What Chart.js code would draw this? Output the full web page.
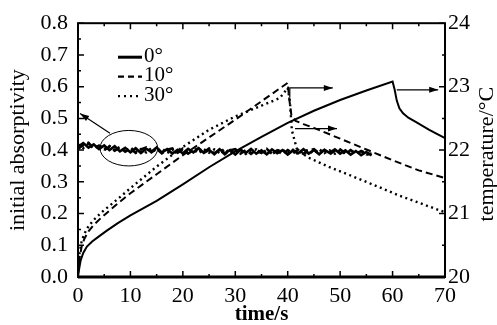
<!DOCTYPE html>
<html>
<head>
<meta charset="utf-8">
<script src="https://cdn.jsdelivr.net/npm/chart.js@4.4.0/dist/chart.umd.min.js"></script>
<style>
  html, body { margin: 0; padding: 0; background: #fff; }
</style>
</head>
<body>
<canvas id="chart" width="497" height="325"></canvas>
<script>
// absorptivity, sampled every second (left axis)
const absTime = [0,1,2,3,4,5,6,7,8,9,10,11,12,13,14,15,16,17,18,19,20,21,22,23,24,25,26,27,28,29,
  30,31,32,33,34,35,36,37,38,39,40,41,42,43,44,45,46,47,48,49,50,51,52,53,54,55,56];
const abs0 = [0.410,0.422,0.408,0.418,0.403,0.415,0.400,0.412,0.396,0.407,
  0.393,0.406,0.391,0.404,0.395,0.408,0.392,0.403,0.389,0.401,
  0.390,0.404,0.393,0.406,0.391,0.401,0.387,0.403,0.390,0.400,
  0.386,0.401,0.391,0.404,0.389,0.399,0.387,0.402,0.390,0.400,
  0.386,0.399,0.390,0.403,0.389,0.400,0.387,0.401,0.391,0.402,
  0.389,0.399,0.386,0.397,0.384,0.394,0.383];
const abs10 = [0.404,0.416,0.423,0.405,0.414,0.400,0.411,0.398,0.409,0.395,
  0.405,0.391,0.402,0.408,0.393,0.404,0.390,0.401,0.405,0.392,
  0.402,0.389,0.400,0.405,0.393,0.405,0.390,0.401,0.387,0.399,
  0.403,0.389,0.400,0.388,0.401,0.391,0.404,0.389,0.399,0.387,
  0.400,0.390,0.401,0.388,0.399,0.403,0.390,0.400,0.387,0.399,
  0.402,0.390,0.400,0.388,0.397,0.386,0.389];
const abs30 = [0.418,0.407,0.420,0.405,0.416,0.403,0.413,0.400,0.410,0.397,
  0.408,0.394,0.403,0.393,0.406,0.395,0.405,0.391,0.401,0.393,
  0.405,0.393,0.402,0.390,0.403,0.392,0.402,0.391,0.404,0.389,
  0.398,0.401,0.388,0.399,0.402,0.390,0.400,0.387,0.398,0.401,
  0.390,0.401,0.387,0.398,0.400,0.389,0.402,0.391,0.399,0.389,
  0.400,0.388,0.398,0.389,0.399,0.387,0.385];

// temperature (right axis)
const time0 = [0,0.2,0.5,1,1.7,2.7,4,5.5,7.6,10,15,20,25,30,35,40,45,50,55,60,60.4,60.8,61.3,62,63,64.5,67,70];
const temp0 = [20.0,20.12,20.26,20.38,20.48,20.56,20.64,20.73,20.85,20.97,21.2,21.46,21.73,21.98,22.21,22.43,22.62,22.79,22.94,23.08,22.95,22.78,22.66,22.58,22.51,22.44,22.32,22.19];
const time10 = [0,0.3,0.7,1.2,2,3,4.5,7.6,10,15,20,25,30,35,40,40.3,40.7,41.5,43,45,50,55,60,65,70];
const temp10 = [20.05,20.3,20.48,20.6,20.72,20.82,20.94,21.16,21.32,21.62,21.92,22.2,22.48,22.77,23.06,22.8,22.55,22.46,22.41,22.35,22.18,22.01,21.84,21.68,21.56];
const time30 = [0,0.3,0.7,1.2,2,3,4.5,7.6,10,15,20,25,30,35,38.5,40,40.4,40.8,41.8,44,48,53.8,61.4,70];
const temp30 = [20.1,20.38,20.56,20.68,20.8,20.9,21.02,21.23,21.4,21.74,22.05,22.32,22.53,22.7,22.82,22.98,22.78,22.31,22.0,21.88,21.73,21.54,21.28,21.02];

const labels = ['0°', '10°', '30°'];
const dashes = [[], [7, 4], [2, 3.5]];

const FONT = "'Liberation Serif', 'Times New Roman', serif";

function pts(xs, ys) {
  return xs.map((x, i) => ({ x: x, y: ys[i] }));
}

function absSet(i, data) {
  return {
    label: labels[i],
    data: pts(absTime, data),
    yAxisID: 'y',
    borderColor: '#000',
    borderWidth: 2.6,
    borderDash: dashes[i],
    pointRadius: 0,
    tension: 0
  };
}
function tempSet(i, xs, ys) {
  return {
    label: labels[i] + ' T',
    data: pts(xs, ys),
    yAxisID: 'y1',
    borderColor: '#000',
    borderWidth: i == 2 ? 2.4 : 2,
    borderDash: dashes[i],
    pointRadius: 0,
    tension: 0
  };
}

function arrowHead(ctx, x0, y0, x1, y1) {
  const a = Math.atan2(y1 - y0, x1 - x0);
  ctx.beginPath();
  ctx.moveTo(x1, y1);
  ctx.lineTo(x1 - 9 * Math.cos(a) + 3 * Math.sin(a), y1 - 9 * Math.sin(a) - 3 * Math.cos(a));
  ctx.lineTo(x1 - 9 * Math.cos(a) - 3 * Math.sin(a), y1 - 9 * Math.sin(a) + 3 * Math.cos(a));
  ctx.closePath();
  ctx.fill();
}

// frame with inward ticks, legend, right title and annotation arrows
const decor = {
  id: 'decor',
  afterDatasetsDraw(chart) {
    const ctx = chart.ctx;
    const a = chart.chartArea;
    const sx = chart.scales.x, sy = chart.scales.y, sy1 = chart.scales.y1;
    ctx.save();
    ctx.strokeStyle = '#000';
    ctx.fillStyle = '#000';
    ctx.lineWidth = 2;
    ctx.setLineDash([]);
    ctx.strokeRect(a.left, a.top, a.right - a.left, a.bottom - a.top);
    ctx.lineWidth = 3;
    ctx.beginPath(); ctx.moveTo(a.left, a.bottom); ctx.lineTo(a.right, a.bottom); ctx.stroke();

    ctx.lineWidth = 1.5;
    ctx.beginPath();
    for (let v = 0; v <= 70.001; v += 5) {
      const x = sx.getPixelForValue(v);
      const len = (Math.round(v) % 10 == 0) ? 6 : 3;
      ctx.moveTo(x, a.bottom); ctx.lineTo(x, a.bottom - len);
      ctx.moveTo(x, a.top); ctx.lineTo(x, a.top + len);
    }
    for (let k = 0; k <= 16; k++) {
      const y = sy.getPixelForValue(k * 0.05);
      const len = (k % 2 == 0) ? 6 : 3;
      ctx.moveTo(a.left, y); ctx.lineTo(a.left + len, y);
    }
    for (let k = 0; k <= 8; k++) {
      const y = sy1.getPixelForValue(20 + k * 0.5);
      const len = (k % 2 == 0) ? 6 : 3;
      ctx.moveTo(a.right, y); ctx.lineTo(a.right - len, y);
    }
    ctx.stroke();

    // legend
    ctx.font = '21px ' + FONT;
    ctx.textBaseline = 'middle';
    ctx.textAlign = 'left';
    for (let i = 0; i < 3; i++) {
      const y = a.top + 33 + i * 19.5;
      const x0 = a.left + 40;
      ctx.lineWidth = i == 0 ? 3 : 2.2;
      ctx.setLineDash(i == 1 ? [6, 4] : i == 2 ? [2, 4] : []);
      ctx.beginPath();
      ctx.moveTo(x0, y + 1); ctx.lineTo(x0 + 24, y + 1);
      ctx.stroke();
      ctx.fillText(labels[i], x0 + 26, y);
    }
    ctx.setLineDash([]);

    // right axis title, reading bottom to top
    ctx.save();
    ctx.font = '22px ' + FONT;
    ctx.textAlign = 'center';
    ctx.translate(chart.width - 10, (a.top + a.bottom) / 2 + 4);
    ctx.rotate(-Math.PI / 2);
    ctx.fillText('temperature/°C', 0, 0);
    ctx.restore();

    // ellipse around absorptivity curves + arrow to left axis
    ctx.lineWidth = 1;
    const cx = sx.getPixelForValue(9.7), cy = sy.getPixelForValue(0.406);
    const rx = sx.getPixelForValue(15.2) - cx, ry = cy - sy.getPixelForValue(0.462);
    ctx.beginPath();
    ctx.ellipse(cx, cy, rx, ry, 0, 0, Math.PI * 2);
    ctx.stroke();

    ctx.lineWidth = 1.2;
    let p0 = [sx.getPixelForValue(6.1), sy.getPixelForValue(0.453)];
    let p1 = [sx.getPixelForValue(0.4), sy.getPixelForValue(0.515)];
    ctx.beginPath(); ctx.moveTo(p0[0], p0[1]); ctx.lineTo(p1[0], p1[1]); ctx.stroke();
    arrowHead(ctx, p0[0], p0[1], p1[0], p1[1]);

    // arrows to the right axis
    const X = v => sx.getPixelForValue(v), T = v => sy1.getPixelForValue(v);
    ctx.beginPath();
    ctx.moveTo(X(40.4), T(22.83)); ctx.lineTo(X(40.4), T(22.98)); ctx.lineTo(X(48.6), T(22.98));
    ctx.stroke();
    arrowHead(ctx, X(40.4), T(22.98), X(48.6), T(22.98));
    ctx.beginPath(); ctx.moveTo(X(41.4), T(22.34)); ctx.lineTo(X(49.4), T(22.34)); ctx.stroke();
    arrowHead(ctx, X(41.4), T(22.34), X(49.4), T(22.34));
    ctx.beginPath(); ctx.moveTo(X(60.8), T(22.95)); ctx.lineTo(X(68.7), T(22.95)); ctx.stroke();
    arrowHead(ctx, X(60.8), T(22.95), X(68.7), T(22.95));
    ctx.restore();
  }
};

const tickFont = { family: FONT, size: 22 };

new Chart(document.getElementById('chart'), {
  type: 'line',
  data: {
    datasets: [
      absSet(0, abs0), absSet(1, abs10), absSet(2, abs30),
      tempSet(0, time0, temp0), tempSet(1, time10, temp10), tempSet(2, time30, temp30)
    ]
  },
  options: {
    responsive: false,
    animation: false,
    layout: { padding: { top: 22, left: 0, right: 0, bottom: 0 } },
    plugins: { legend: { display: false }, tooltip: { enabled: false } },
    scales: {
      x: {
        type: 'linear', min: 0, max: 70,
        grid: { display: false, drawTicks: false },
        border: { display: false },
        ticks: { stepSize: 10, color: '#000', font: tickFont, padding: 6, autoSkip: false, maxRotation: 0 },
        title: { display: true, text: 'time/s', color: '#000', font: { family: FONT, size: 21, weight: 'bold', lineHeight: 1 }, padding: { top: 0, bottom: 0 } },
        afterFit(s) { s.height = 48; }
      },
      y: {
        position: 'left', min: 0, max: 0.8,
        grid: { display: false, drawTicks: false },
        border: { display: false },
        ticks: { stepSize: 0.1, color: '#000', font: tickFont, padding: 10, callback: v => v.toFixed(1) },
        title: { display: true, text: 'initial absorptivity', color: '#000', font: { family: FONT, size: 22, lineHeight: 1 }, padding: { top: 7, bottom: 0 } },
        afterFit(s) { s.width = 78; }
      },
      y1: {
        position: 'right', min: 20, max: 24,
        grid: { display: false, drawTicks: false },
        border: { display: false },
        ticks: { stepSize: 1, color: '#000', font: tickFont, padding: 3 },
        title: { display: false },
        afterFit(s) { s.width = 52; }
      }
    }
  },
  plugins: [decor]
});
</script>
</body>
</html>
